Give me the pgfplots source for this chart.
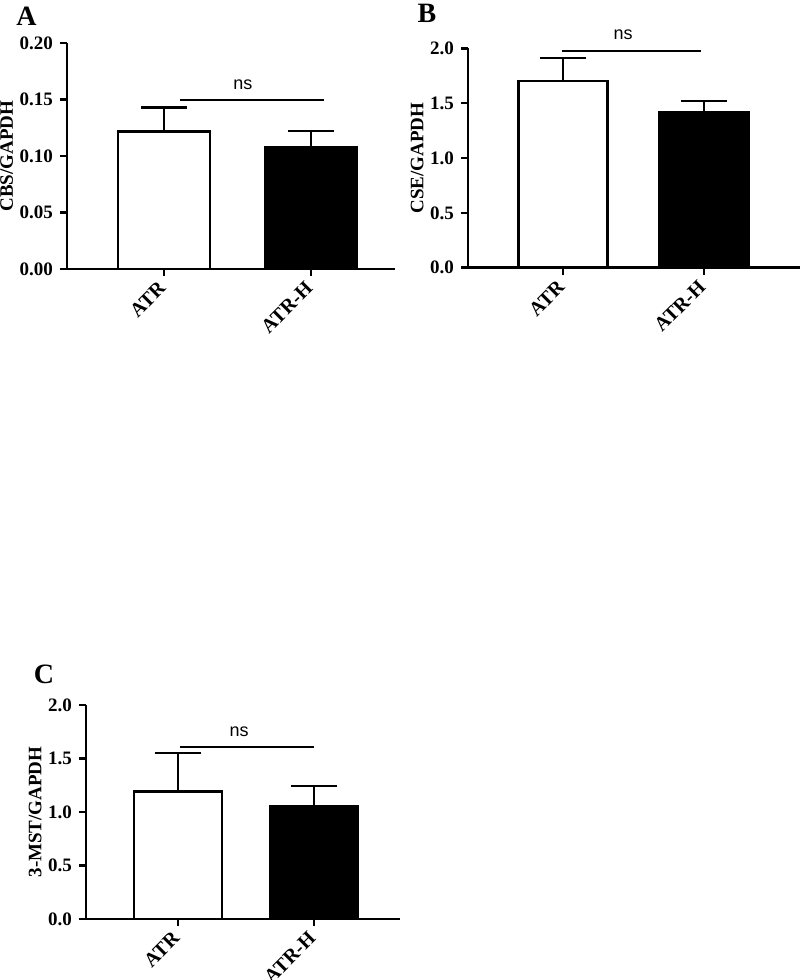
\documentclass[border=0pt]{standalone}
\usepackage{pgfplots}
\pgfplotsset{compat=1.18}
\usepackage{fontspec}
\setmainfont{Liberation Serif}
\newfontfamily\nsfont{Liberation Sans}
\newcommand{\tf}{\bfseries\fontsize{9.5}{11}\selectfont}
\begin{document}
\begin{tikzpicture}
\path[use as bounding box] (0pt,0pt) rectangle (400pt,490pt);
\pgfplotsset{
  panel/.style={
    scale only axis,
    axis lines=left,
    axis line style={-, line width=1.3pt},
    tick align=outside,
    major tick length=3.5pt,
    tick style={line width=1.3pt, black},
    xtick={0,1},
    xticklabels={ATR, ATR-H},
    xticklabel style={xshift=1.5pt, yshift=-2pt, rotate=45, anchor=east, font=\bfseries\fontsize{10}{12}\selectfont},
    yticklabel style={font=\tf},
    ylabel style={font=\tf},
    ylabel shift=-3.5pt,
    /pgf/number format/assume math mode=true,
    ymin=0,
    clip=false,
    anchor=south west,
  },
  bars/.style n args={2}{ybar, bar width=#1, bar shift=0pt, draw=black, line width=1.4pt, fill=#2,
    error bars/.cd, y dir=plus, y explicit,
    error bar style={line width=1.2pt, black},
    error mark options={rotate=90, line width=1.2pt, mark size=11.5pt, black}},
}
% Panel A
\begin{axis}[panel, at={(33.5pt,355.5pt)}, width=164pt, height=113pt,
  xmin=-0.66, xmax=1.571, ymax=0.20,
  ytick={0,0.05,0.10,0.15,0.20},
  yticklabel style={/pgf/number format/.cd, fixed, fixed zerofill, precision=2},
  ylabel={CBS/GAPDH}]
\addplot[bars={46pt}{white}] coordinates {(0,0.122) +- (0,0.021)};
\addplot[bars={46pt}{black}] coordinates {(1,0.108) +- (0,0.014)};
\addplot[black, line width=1pt] coordinates {(0.109,0.1496) (1.088,0.1496)};
\node[font=\nsfont\fontsize{9}{10}\selectfont] at (axis cs:0.537,0.163) {ns};
\end{axis}
% Panel B
\begin{axis}[panel, at={(234pt,356.15pt)}, width=166pt, height=109.7pt,
  xmin=-0.674, xmax=1.681, ymax=2.0,
  ytick={0,0.5,1.0,1.5,2.0},
  yticklabel style={/pgf/number format/.cd, fixed, fixed zerofill, precision=1},
  ylabel={CSE/GAPDH}]
\addplot[bars={44.5pt}{white}] coordinates {(0,1.702) +- (0,0.207)};
\addplot[bars={44.5pt}{black}] coordinates {(1,1.417) +- (0,0.105)};
\addplot[black, line width=1pt] coordinates {(-0.007,1.978) (0.979,1.978)};
\node[font=\nsfont\fontsize{9}{10}\selectfont] at (axis cs:0.426,2.12) {ns};
\end{axis}
% Panel C
\begin{axis}[panel, at={(43pt,30.5pt)}, width=157pt, height=107pt,
  xmin=-0.676, xmax=1.632, ymax=2.0,
  ytick={0,0.5,1.0,1.5,2.0},
  yticklabel style={/pgf/number format/.cd, fixed, fixed zerofill, precision=1},
  ylabel={3-MST/GAPDH}]
\addplot[bars={44pt}{white}] coordinates {(0,1.193) +- (0,0.356)};
\addplot[bars={44pt}{black}] coordinates {(1,1.053) +- (0,0.190)};
\addplot[black, line width=1pt] coordinates {(0.015,1.605) (1.0,1.605)};
\node[font=\nsfont\fontsize{9}{10}\selectfont] at (axis cs:0.449,1.75) {ns};
\end{axis}
\node[font=\bfseries\fontsize{14}{16}\selectfont] at (13.25pt,482pt) {A};
\node[font=\bfseries\fontsize{14}{16}\selectfont] at (213.5pt,483.25pt) {B};
\node[font=\bfseries\fontsize{14}{16}\selectfont] at (22pt,153pt) {C};
\end{tikzpicture}
\end{document}
